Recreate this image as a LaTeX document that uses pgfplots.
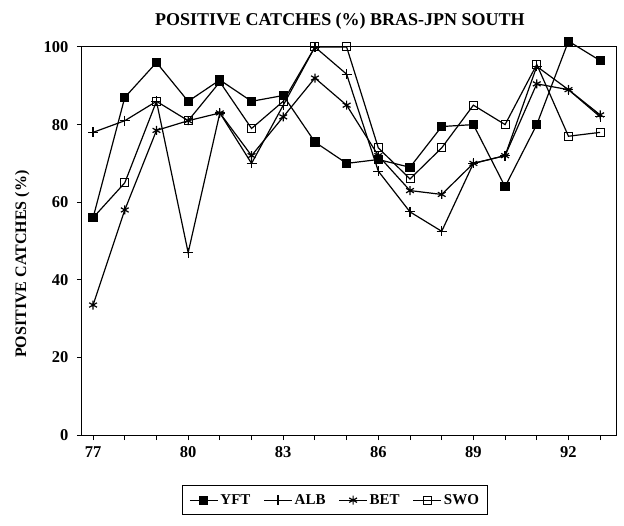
\documentclass[border=0pt]{standalone}
\usepackage{fontspec}
\setmainfont{Liberation Serif}
\usepackage{pgfplots}
\usepackage{pgfplotstable}
\pgfplotsset{compat=1.18}
\pgfplotstableread{
year yft alb bet swo
77 56 78 33.5 56
78 87 81 58 65
79 96 86 78.5 86
80 86 47 81 81
81 91.5 83 83 91
82 86 70 72 79
83 87.5 85 82 86
84 75.5 100 92 100
85 70 93 85 100
86 71 68 72 74
87 69 57.5 63 66
88 79.5 52.5 62 74
89 80 70 70 85
90 64 72 72 80
91 80 95 90.5 95.5
92 101.5 89 89 77
93 96.5 82 82.5 78
}\data
\begin{document}
\begin{tikzpicture}
\begin{axis}[
  scale only axis, width=534pt, height=388pt,
  xmin=76.65, xmax=93.5, ymin=0, ymax=100,
  xtick={77,80,...,92}, minor xtick={77,...,93},
  ytick={0,20,...,100},
  xtick pos=lower, ytick pos=left,
  tick align=outside, major tick length=5pt, minor tick length=5pt,
  tick style={black, line width=1pt},
  axis line style={line width=1pt},
  clip=false,
  /pgf/number format/assume math mode=true,
  ticklabel style={font=\bfseries\fontsize{16.5}{18}\selectfont},
  yticklabel style={xshift=-5pt},
  xticklabel style={yshift=-3pt},
  title={\bfseries\fontsize{18}{20}\selectfont POSITIVE CATCHES (\%) BRAS-JPN SOUTH},
  title style={at={(0.483,1.02)}, anchor=south},
  ylabel={\bfseries\fontsize{16}{18}\selectfont POSITIVE CATCHES (\%)},
  ylabel style={at={(axis description cs:-0.112,0.44)}, anchor=center},
  legend columns=4,
  legend image code/.code={\draw[mark repeat=2,mark phase=2,#1] plot coordinates {(0pt,0pt) (14pt,0pt) (28pt,0pt)};},
  legend style={at={(0.474,-0.168)}, anchor=center, draw=black, line width=1pt,
    font=\bfseries\fontsize{15}{17}\selectfont, inner sep=7pt,
    /tikz/every even column/.append style={column sep=11pt}},
  every axis plot/.append style={black, line width=1.2pt},
]
\addplot[mark=square*, mark size=4pt] table[x=year,y=yft] {\data};
\addlegendentry{YFT}
\addplot[mark=+, mark size=5pt] table[x=year,y=alb] {\data};
\addlegendentry{ALB}
\addplot[mark=asterisk, mark size=4.5pt] table[x=year,y=bet] {\data};
\addlegendentry{BET}
\addplot[mark=square, mark size=4pt, mark options={fill=none, line width=1pt}] table[x=year,y=swo] {\data};
\addlegendentry{SWO}
\end{axis}
\pgfresetboundingbox
\useasboundingbox (-82pt,-90pt) rectangle (542pt,435pt);
\end{tikzpicture}
\end{document}
